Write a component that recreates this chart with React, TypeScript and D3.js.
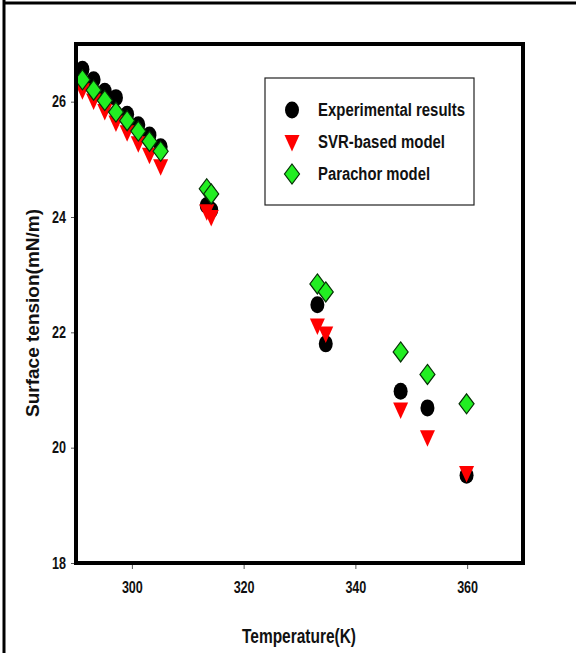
import React, { useEffect, useRef } from "react";
import * as d3 from "d3";

// temperatures (K) per cluster
const temps = [291.15, 293.15, 295.15, 297.15, 299.15, 301.15, 303.15, 305.15, 313.4, 314.2, 333.2, 334.7, 348.1, 352.9, 359.9];
const experimental = [26.56, 26.38, 26.18, 26.07, 25.78, 25.6, 25.42, 25.22, 24.2, 24.12, 22.48, 21.8, 20.98, 20.69, 19.52];
const svrModel = [26.2, 26.02, 25.84, 25.64, 25.47, 25.28, 25.08, 24.88, 24.1, 24.0, 22.12, 21.98, 20.66, 20.18, 19.56];
const parachor = [26.38, 26.2, 26.02, 25.82, 25.67, 25.49, 25.31, 25.14, 24.49, 24.4, 22.84, 22.7, 21.66, 21.27, 20.76];

const xTicks = [300, 320, 340, 360];
const yTicks = [18, 20, 22, 24, 26];
const legendLabels = ["Experimental results", "SVR-based model", "Parachor model"];
const legendWidths = [147, 127, 112];

const W = 577, H = 653;
const plot = { left: 76, right: 523, top: 44, bottom: 563 };
const font = "'Liberation Sans', Arial, sans-serif";

const circlePath = "M0,-8.5 A7,8.5 0 1,1 0,8.5 A7,8.5 0 1,1 0,-8.5 Z";
const trianglePath = "M-7.5,-7 L7.5,-7 L0,9.5 Z";
const diamondPath = "M0,-10 L7.5,0 L0,10 L-7.5,0 Z";

function App() {
  const xRef = useRef<SVGGElement>(null);
  const yRef = useRef<SVGGElement>(null);

  const x = d3.scaleLinear().domain([290, 370]).range([plot.left, plot.right]);
  const y = d3.scaleLinear().domain([18, 27]).range([plot.bottom, plot.top]);

  useEffect(() => {
    const xa = d3.axisBottom(x).tickValues(xTicks).tickSize(6).tickPadding(13).tickFormat(d3.format("d"));
    const g = d3.select(xRef.current).call(xa);
    g.select(".domain").remove();
    g.selectAll("text").attr("font-family", font).attr("font-weight", "bold").attr("font-size", 16).attr("fill", "#111")
      .attr("textLength", 21).attr("lengthAdjust", "spacingAndGlyphs");
    g.selectAll("line").attr("stroke", "#555");

    const ya = d3.axisLeft(y).tickValues(yTicks).tickSize(5).tickPadding(5).tickFormat(d3.format("d"));
    const gy = d3.select(yRef.current).call(ya);
    gy.select(".domain").remove();
    gy.selectAll("text").attr("font-family", font).attr("font-weight", "bold").attr("font-size", 16).attr("fill", "#111")
      .attr("textLength", 14).attr("lengthAdjust", "spacingAndGlyphs");
    gy.selectAll("line").attr("stroke", "#555");
  }, []);

  return (
    <svg width={W} height={H} style={{ position: "absolute", left: 0, top: 0, background: "#fff" }}>
      <line x1={4} y1={0} x2={4} y2={H} stroke="#000" strokeWidth={3} />
      <line x1={3} y1={3} x2={576} y2={3} stroke="#000" strokeWidth={3} />

      <g ref={xRef} transform={`translate(0,${plot.bottom})`} />
      <g ref={yRef} transform={`translate(${plot.left},0)`} />

      <g>
        {temps.map((t, i) => (
          <path key={"c" + i} d={circlePath} transform={`translate(${x(t)},${y(experimental[i])})`} fill="#000" />
        ))}
        {temps.map((t, i) => (
          <path key={"t" + i} d={trianglePath} transform={`translate(${x(t)},${y(svrModel[i])})`} fill="#f00" />
        ))}
        {temps.map((t, i) => (
          <path key={"d" + i} d={diamondPath} transform={`translate(${x(t)},${y(parachor[i])})`} fill="#22ee22" stroke="#063006" strokeWidth={1.2} />
        ))}
      </g>

      <rect x={plot.left} y={plot.top} width={plot.right - plot.left} height={plot.bottom - plot.top} fill="none" stroke="#000" strokeWidth={4} />

      <g>
        <rect x={265} y={78} width={209} height={127} fill="none" stroke="#222" strokeWidth={1.2} />
        {legendLabels.map((lab, i) => (
          <g key={lab} transform={`translate(0,${110 + i * 32})`}>
            <path d={[circlePath, trianglePath, diamondPath][i]} transform="translate(292,0)" fill={["#000", "#f00", "#22ee22"][i]} stroke={i === 2 ? "#063006" : "none"} strokeWidth={1.2} />
            <text x={318} y={0} dy="0.35em" fontFamily={font} fontWeight="bold" fontSize={18} fill="#111" textLength={legendWidths[i]} lengthAdjust="spacingAndGlyphs">{lab}</text>
          </g>
        ))}
      </g>

      <text x={299} y={643} textAnchor="middle" fontFamily={font} fontWeight="bold" fontSize={21} fill="#111" textLength={114} lengthAdjust="spacingAndGlyphs">Temperature(K)</text>
      <text transform={`translate(39,313) rotate(-90)`} textAnchor="middle" fontFamily={font} fontWeight="bold" fontSize={19} fill="#111">Surface tension(mN/m)</text>
    </svg>
  );
}

export default App;
